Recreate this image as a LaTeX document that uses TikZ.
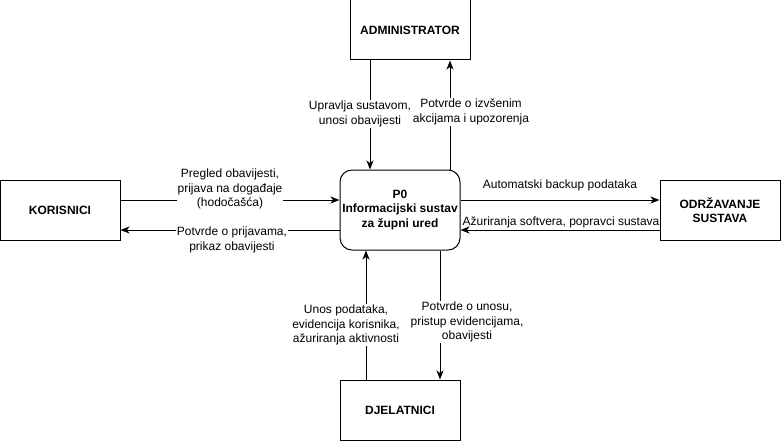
\documentclass[tikz,border=0pt]{standalone}
\usepackage{fontspec}
\setmainfont{Liberation Sans}
\usetikzlibrary{arrows.meta}
\begin{document}
\begin{tikzpicture}[x=1pt,y=-1pt,
  entity/.style={draw, line width=1pt, minimum width=120pt, minimum height=60pt, inner sep=0pt, align=center, font=\fontsize{12}{14.5}\selectfont\bfseries},
  proc/.style={entity, rounded corners=12pt, minimum height=80pt},
  arr/.style={line width=1pt, -{Stealth[length=9pt,width=7pt,inset=2.5pt]}},
  lbl/.style={align=center, inner sep=1pt, font=\fontsize{12}{14.5}\selectfont},
  lblw/.style={lbl, fill=white}]
\useasboundingbox (0,0) rectangle (781,441);
\node[entity] (admin) at (410,30) {ADMINISTRATOR};
\node[proc] (sys) at (400,210) {P0\\Informacijski sustav\\za župni ured};
\node[entity] (kor) at (60,210) {KORISNICI};
\node[entity] (odr) at (720,210) {ODRŽAVANJE\\SUSTAVA};
\node[entity] (djel) at (400,410) {DJELATNICI};
% connectors
\draw[arr] ([xshift=-40pt]admin.south) -- ([xshift=-30pt]sys.north);
\draw[arr] ([xshift=50pt]sys.north) -- ([xshift=40pt]admin.south);
\draw[arr] ([yshift=10pt]kor.east) -- ([yshift=10pt]sys.west);
\draw[arr] ([yshift=-20pt]sys.west) -- ([yshift=-20pt]kor.east);
\draw[arr] ([yshift=10pt]sys.east) -- ([yshift=10pt]odr.west);
\draw[arr] ([yshift=-20pt]odr.west) -- ([yshift=-20pt]sys.east);
\draw[arr] ([xshift=-34pt]djel.north) -- ([xshift=-34pt]sys.south);
\draw[arr] ([xshift=40pt]sys.south) -- ([xshift=40pt]djel.north);
% labels
\node[lblw] (l1) at (360,114) {Upravlja sustavom,\\unosi obavijesti};
\node[lblw] (l2) at (471,112) {Potvrde o izvšenim\\akcijama i upozorenja};
\node[lblw] (l3) at (230,189) {Pregled obavijesti,\\prijava na događaje\\(hodočašća)};
\node[lblw] (l4) at (232,240) {Potvrde o prijavama,\\prikaz obavijesti};
\node[lbl] (l5) at (560,185) {Automatski backup podataka};
\node[lbl] (l6) at (561,222) {Ažuriranja softvera, popravci sustava};
\node[lblw] (l7) at (346,325) {Unos podataka,\\evidencija korisnika,\\ažuriranja aktivnosti};
\node[lblw] (l8) at (467,322) {Potvrde o unosu,\\pristup evidencijama,\\obavijesti};
\end{tikzpicture}
\end{document}
